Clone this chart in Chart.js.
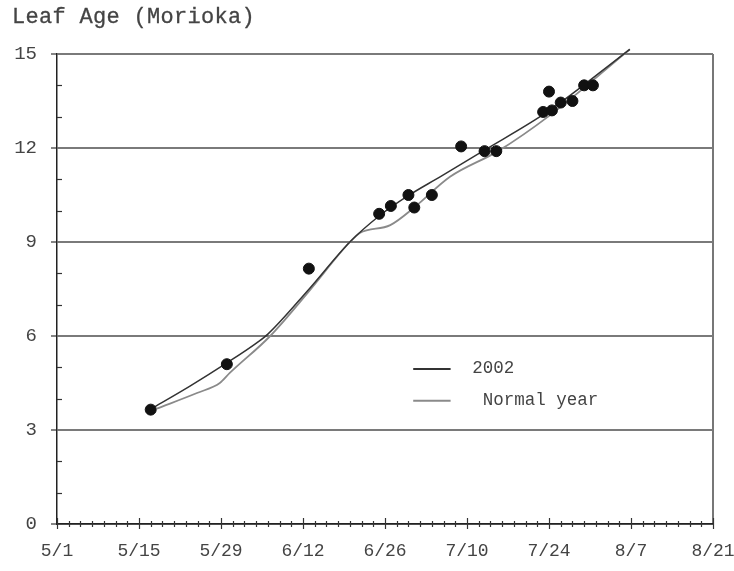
<!DOCTYPE html>
<html>
<head>
<meta charset="utf-8">
<script src="https://cdn.jsdelivr.net/npm/chart.js@4"></script>
<style>
  html, body { margin: 0; padding: 0; background: #fff; }
  #wrap { position: relative; width: 734px; height: 571px; }
  #title { position: absolute; left: 12px; top: 5px; font: 22px "Liberation Mono", monospace; color: #444; letter-spacing: 0.3px; white-space: pre; -webkit-text-stroke: 0.3px #444; }
  canvas { position: absolute; left: 0; top: 0; }
</style>
</head>
<body>
<div id="wrap">
  <canvas id="c" width="734" height="571"></canvas>
  <div id="title">Leaf Age (Morioka)</div>
</div>
<script>
// Days are counted from 5/1 (day 0).
const tickLabels = ['5/1', '5/15', '5/29', '6/12', '6/26', '7/10', '7/24', '8/7', '8/21'];

// Observed leaf age, 2002
const obsDays = [16, 29, 43, 55, 57, 60, 61, 64, 69, 73, 75, 84, 83, 84.5, 86, 88, 90, 91.5];
const obsLeaf = [3.65, 5.1, 8.15, 9.9, 10.15, 10.5, 10.1, 10.5, 12.05, 11.9, 11.9, 13.8, 13.15, 13.2, 13.45, 13.5, 14.0, 14.0];

// Development curve, 2002
const days2002 = [16.5, 22.7, 29.0, 34.1, 36.0, 42.9, 50.0, 55.0, 59.9, 65.4, 72.7, 83.7, 97.8];
const leaf2002 = [3.72, 4.40, 5.14, 5.78, 6.06, 7.47, 9.0, 9.83, 10.47, 11.08, 11.9, 13.15, 15.15];

// Development curve, normal year
const daysNormal = [17.0, 23.9, 27.8, 29.5, 36.4, 42.9, 50.0, 51.7, 56.9, 61.1, 67.1, 75.3, 84.2, 97.8];
const leafNormal = [3.68, 4.18, 4.50, 4.82, 6.0, 7.40, 9.0, 9.29, 9.54, 10.12, 11.08, 11.9, 13.05, 15.15];

const FONT = '"Liberation Mono", monospace';
const toXY = (xs, ys) => xs.map((x, i) => ({ x: x, y: ys[i] }));

// Minor/major tick marks that cross the axes
const axisMarks = {
  id: 'axisMarks',
  afterDraw(chart) {
    const { ctx, scales: { x, y } } = chart;
    ctx.save();
    ctx.strokeStyle = '#333';
    ctx.lineWidth = 1.2;
    const y0 = y.getPixelForValue(0);
    for (let d = 0; d <= 112; d += 2) {
      const px = Math.round(x.getPixelForValue(d)) + 0.5;
      const major = d % 14 === 0;
      ctx.beginPath();
      ctx.moveTo(px, y0 - (major ? 6 : 3));
      ctx.lineTo(px, y0 + (major ? 5 : 3));
      ctx.stroke();
    }
    const x0 = x.getPixelForValue(0);
    for (let v = 1; v < 15; v++) {
      if (v % 3 === 0) continue;
      const py = Math.round(y.getPixelForValue(v)) + 0.5;
      ctx.beginPath();
      ctx.moveTo(x0, py);
      ctx.lineTo(x0 + 5, py);
      ctx.stroke();
    }
    ctx.restore();
  }
};

// Legend drawn inside the plot area
const innerLegend = {
  id: 'innerLegend',
  afterDraw(chart) {
    const { ctx, chartArea: a } = chart;
    const w = a.right - a.left, h = a.bottom - a.top;
    const items = [chart.data.datasets[1], chart.data.datasets[2]];
    const labels = ['2002', ' Normal year'];
    const rows = [0.670, 0.738];
    ctx.save();
    ctx.font = '17.5px ' + FONT;
    ctx.fillStyle = '#444';
    ctx.textBaseline = 'middle';
    items.forEach((ds, i) => {
      const py = a.top + h * rows[i];
      ctx.strokeStyle = ds.borderColor;
      ctx.lineWidth = 2;
      ctx.beginPath();
      ctx.moveTo(a.left + w * 0.543, py);
      ctx.lineTo(a.left + w * 0.600, py);
      ctx.stroke();
      ctx.fillText(labels[i], a.left + w * 0.633, py - 1);
    });
    ctx.restore();
  }
};

new Chart(document.getElementById('c'), {
  type: 'line',
  data: {
    datasets: [
      {
        label: 'Observed',
        type: 'scatter',
        data: toXY(obsDays, obsLeaf),
        showLine: false,
        pointRadius: 5.5,
        pointBackgroundColor: '#111',
        pointBorderColor: '#111',
        order: 0
      },
      {
        label: '2002',
        data: toXY(days2002, leaf2002),
        borderColor: '#333',
        borderWidth: 1.5,
        pointRadius: 0,
        cubicInterpolationMode: 'monotone',
        clip: false,
        order: 1
      },
      {
        label: 'Normal year',
        data: toXY(daysNormal, leafNormal),
        borderColor: '#8a8a8a',
        borderWidth: 1.8,
        pointRadius: 0,
        cubicInterpolationMode: 'monotone',
        clip: false,
        order: 2
      }
    ]
  },
  options: {
    responsive: false,
    animation: false,
    layout: { padding: { top: 54, right: 0, bottom: 0, left: 0 } },
    plugins: { legend: { display: false }, tooltip: { enabled: false }, title: { display: false } },
    scales: {
      x: {
        type: 'linear',
        min: 0,
        max: 112,
        afterFit(scale) { scale.height = 47; scale.paddingRight = 21; },
        ticks: {
          stepSize: 14,
          autoSkip: false,
          maxRotation: 0,
          padding: 16,
          color: '#444',
          font: { family: FONT, size: 18 },
          callback: (v) => tickLabels[Math.round(v / 14)]
        },
        grid: {
          drawTicks: false,
          lineWidth: 2,
          color: (c) => (c.tick && c.tick.value === 112 ? '#777' : 'rgba(0,0,0,0)')
        },
        border: { display: true, color: '#222', width: 1.5 }
      },
      y: {
        min: 0,
        max: 15,
        afterFit(scale) { scale.width = 57; },
        ticks: {
          stepSize: 3,
          padding: 14,
          color: '#444',
          font: { family: FONT, size: 19 }
        },
        grid: {
          color: '#7a7a7a',
          lineWidth: 2,
          drawTicks: true,
          tickLength: 6,
          tickColor: '#333',
          tickWidth: 1.2
        },
        border: { display: true, color: '#222', width: 1.5 }
      }
    }
  },
  plugins: [axisMarks, innerLegend]
});
</script>
</body>
</html>
